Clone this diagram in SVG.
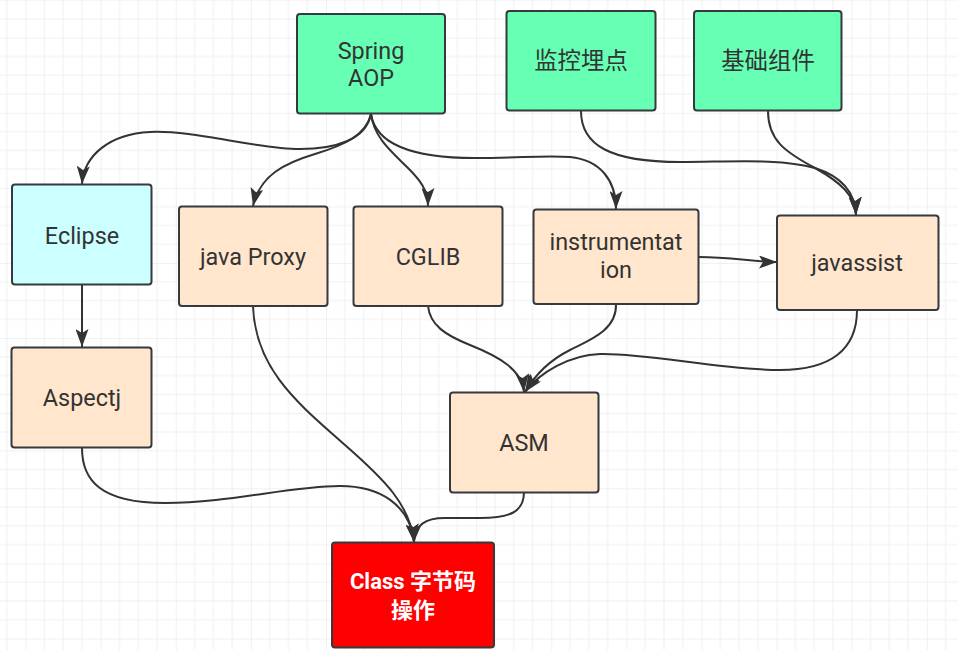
<svg xmlns="http://www.w3.org/2000/svg" width="958" height="650" viewBox="0 0 958 650">
<defs>
<pattern id="grid" x="25.6" y="37.7" width="75.1" height="75.1" patternUnits="userSpaceOnUse">
<path d="M18.78,0 V75.1 M37.55,0 V75.1 M56.33,0 V75.1 M0,18.78 H75.1 M0,37.55 H75.1 M0,56.33 H75.1" stroke="#f0f0f0" stroke-width="1" fill="none"/>
<path d="M0,0 V75.1 M0,0 H75.1" stroke="#e4e4e4" stroke-width="1" fill="none"/>
</pattern>
<marker id="arr" viewBox="0 0 18 13" refX="18" refY="6.5" markerWidth="18" markerHeight="13" orient="auto" markerUnits="userSpaceOnUse">
<path d="M0,0 L18,6.5 L0,13 L4,6.5 z" fill="#333333"/>
</marker>
</defs>
<style>
.box{stroke:#36393d;stroke-width:2;}
.g{fill:#66ffb3;}
.c{fill:#ccffff;}
.p{fill:#ffe6cc;}
.r{fill:#ff0000;}
.t{font-family:Roboto,"Noto Sans CJK SC",sans-serif;font-size:23.4px;fill:#333333;text-anchor:middle;}
.w{font-family:Roboto,"Noto Sans CJK SC",sans-serif;font-size:22px;font-weight:bold;fill:#ffffff;text-anchor:middle;}
.e{fill:none;stroke:#333333;stroke-width:2;marker-end:url(#arr);}
</style>
<rect width="958" height="650" fill="#ffffff"/>
<rect width="958" height="650" fill="url(#grid)"/>
<g id="connectors">
<path class="e" d="M371,114 C366,140 335,149 300,149 C255,149 195,130 150,132 C110,134 84,155 82,184"/>
<path class="e" d="M371,114 C366,135 345,145 315,154 C285,163 260,175 253,206"/>
<path class="e" d="M371,114 C374,138 392,152 408,168 C420,180 428,190 428,206"/>
<path class="e" d="M371,114 C376,146 415,158 475,158 C520,158 545,155 570,157 C600,160 616,180 616,209"/>
<path class="e" d="M581,111 C581,145 610,162 680,162 C730,162 780,158 815,168 C840,176 855,190 856,215"/>
<path class="e" d="M768,111 C768,140 785,152 815,168 C840,182 855,195 856,215"/>
<path class="e" d="M699,257 C730,257 755,262 777,262"/>
<path class="e" d="M82,285 L82,347"/>
<path class="e" d="M428,306 C430,325 445,335 470,345 C500,357 522,370 524,392"/>
<path class="e" d="M616,304 C617,330 590,340 570,350 C550,360 535,375 525,392"/>
<path class="e" d="M857,310 C857,350 830,370 780,370 C720,370 650,353 600,354 C570,355 540,372 525,392"/>
<path class="e" d="M82,448 C82,480 100,503 165,503 C230,503 290,486 340,486 C380,486 410,505 414,542"/>
<path class="e" d="M253,306 C255,370 300,405 345,445 C385,480 410,505 414,542"/>
<path class="e" d="M524,492 C524,512 510,518 480,518 L445,518 C425,518 415,525 414,542"/>
</g>
<g id="spring-aop"><rect class="box g" x="297" y="14" width="148" height="99.5" rx="3"/><text class="t" x="371" y="58.5">Spring<tspan x="371" dy="27.6">AOP</tspan></text></g>
<g id="monitor"><rect class="box g" x="506.5" y="11" width="149" height="99.5" rx="3"/><text class="t" x="581" y="69">监控埋点</text></g>
<g id="base"><rect class="box g" x="694" y="11" width="147.5" height="99.5" rx="3"/><text class="t" x="768" y="69">基础组件</text></g>
<g id="eclipse"><rect class="box c" x="12" y="184.5" width="139.5" height="100" rx="3"/><text class="t" x="82" y="243.5">Eclipse</text></g>
<g id="java-proxy"><rect class="box p" x="179" y="206.5" width="148.5" height="99.5" rx="3"/><text class="t" x="253" y="265">java Proxy</text></g>
<g id="cglib"><rect class="box p" x="353.5" y="206.5" width="149" height="99.5" rx="3"/><text class="t" x="428" y="265">CGLIB</text></g>
<g id="instrumentation"><rect class="box p" x="533.5" y="209.5" width="165" height="94.5" rx="3"/><text class="t" x="616" y="250">instrumentat<tspan x="616" dy="28">ion</tspan></text></g>
<g id="javassist"><rect class="box p" x="777" y="215.5" width="161.5" height="94.5" rx="3"/><text class="t" x="857" y="271">javassist</text></g>
<g id="aspectj"><rect class="box p" x="11.5" y="347.5" width="140" height="100" rx="3"/><text class="t" x="82" y="406">Aspectj</text></g>
<g id="asm"><rect class="box p" x="450" y="392.5" width="148.5" height="100" rx="3"/><text class="t" x="524" y="451">ASM</text></g>
<g id="class"><rect class="box r" x="332" y="542.5" width="162" height="105" rx="3"/><text class="w" x="413" y="588.5">Class 字节码<tspan x="413" dy="29">操作</tspan></text></g>
</svg>
